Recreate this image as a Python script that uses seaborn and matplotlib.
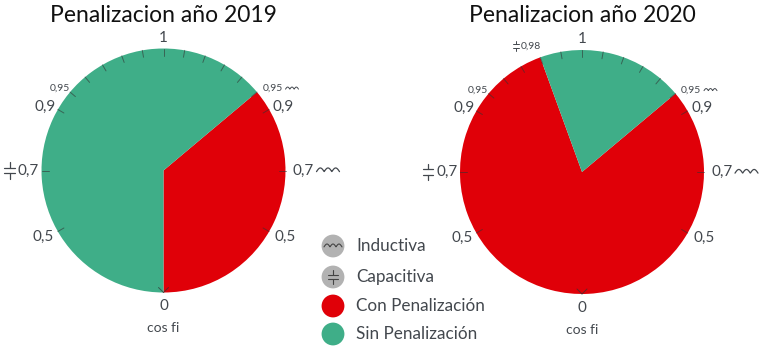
import numpy as np
import pandas as pd
import matplotlib.pyplot as plt
import seaborn as sns

# Pie shares in degrees of the dial
slices_2019 = [130, 230]
slices_2020 = [290, 70]
colors_pie = ['#E00008', '#3FAE88']
start_angle = 40

# Dial ticks, degrees from the top
tick_angles = [0, 10, 20, 30, 40, 50, 60, 90, 120, 240, 270, 300, 310, 320, 330, 340, 350]

# Legend
legend_labels = ['Inductiva', 'Capacitiva', 'Con Penalización', 'Sin Penalización']
legend_colors = ['#B2B2B2', '#B2B2B2', '#E00008', '#3FAE88']
legend_y = [246, 277, 306, 334]

TEXT = '#43484E'
W, H = 760, 356
R = 122

sns.set_theme(style='white')
plt.rcParams['font.family'] = ['Lato', 'DejaVu Sans']

fig = plt.figure(figsize=(W / 100, H / 100), dpi=100)
ax = fig.add_axes([0, 0, 1, 1])


def Y(y):
    return H - y


def inductor(x, y, w, color=TEXT, lw=0.9):
    # coil symbol: three humps between two short leads
    t = np.linspace(0, 1, 90)
    xs = x + w * t
    ys = Y(y) + w * 0.16 * np.abs(np.sin(3 * np.pi * t)) - w * 0.05
    ax.plot(xs, ys, color=color, lw=lw, solid_capstyle='round', zorder=5)


def capacitor(x, y, w, color=TEXT, lw=0.9):
    h = w * 0.38
    for sign in (-1, 1):
        ax.plot([x - h, x + h], [Y(y) + sign * w * 0.18] * 2, color=color, lw=lw, zorder=5)
        ax.plot([x, x], [Y(y) + sign * w * 0.18, Y(y) + sign * w * 0.58], color=color, lw=lw, zorder=5)


def dial(cx, cy, slices, title, title_y):
    ax.pie(slices, colors=colors_pie, startangle=start_angle, counterclock=False,
           center=(cx, Y(cy)), radius=R, wedgeprops={'linewidth': 0})
    # tick marks
    for a in tick_angles:
        s, c = np.sin(np.radians(a)), np.cos(np.radians(a))
        ax.plot([cx + R * s, cx + (R - 7) * s], [Y(cy) + R * c, Y(cy) + (R - 7) * c],
                color='#333333', lw=0.7, alpha=0.6)
    for sign in (-1, 1):
        ax.plot([cx, cx + sign * 5], [Y(cy) - R, Y(cy) - R + 5], color='#333333', lw=0.7, alpha=0.7)

    ax.text(cx, Y(title_y), title, ha='center', va='center', fontsize=16.5, color='#111111')
    big = [('1', 0, -133), ('0,9', -118, -64), ('0,9', 120, -64), ('0,7', -135, 0),
           ('0,7', 140, 0), ('0,5', -120, 66), ('0,5', 122, 66), ('0', 0, 136)]
    for txt, dx, dy in big:
        ax.text(cx + dx, Y(cy + dy), txt, ha='center', va='center', fontsize=11, color=TEXT)
    for dx in (-104, 109):
        ax.text(cx + dx, Y(cy - 82), '0,95', ha='center', va='center', fontsize=7.5, color=TEXT)
    ax.text(cx, Y(cy + 158), 'cos fi', ha='center', va='center', fontsize=10, color=TEXT)
    inductor(cx + 122, cy - 82, 13, lw=0.7)
    inductor(cx + 153, cy, 23)
    capacitor(cx - 154, cy, 14)


dial(163.5, 170.5, slices_2019, 'Penalizacion año 2019', 16)
dial(582, 172, slices_2020, 'Penalizacion año 2020', 15)

# marker of the 0,98 limit on the 2020 dial
ax.text(531, Y(46), '0,98', ha='center', va='center', fontsize=7.5, color=TEXT)
capacitor(516, 46, 9, lw=0.7)

# Legend dots
legend_df = pd.DataFrame({'x': [333] * 4, 'y': [Y(v) for v in legend_y], 'label': legend_labels})
sns.scatterplot(data=legend_df, x='x', y='y', hue='label', palette=legend_colors,
                s=270, linewidth=0, legend=False, ax=ax, zorder=3)
for lab, y in zip(legend_labels, legend_y):
    ax.text(356, Y(y), lab, ha='left', va='center', fontsize=12.3, color=TEXT)
inductor(324, 246, 18, color='#444444', lw=0.8)
capacitor(333, 277, 12, color='#444444', lw=0.8)

ax.set_xlim(0, W)
ax.set_ylim(0, H)
ax.set_xlabel('')
ax.set_ylabel('')
ax.axis('off')
fig.savefig('out.png', dpi=100)
